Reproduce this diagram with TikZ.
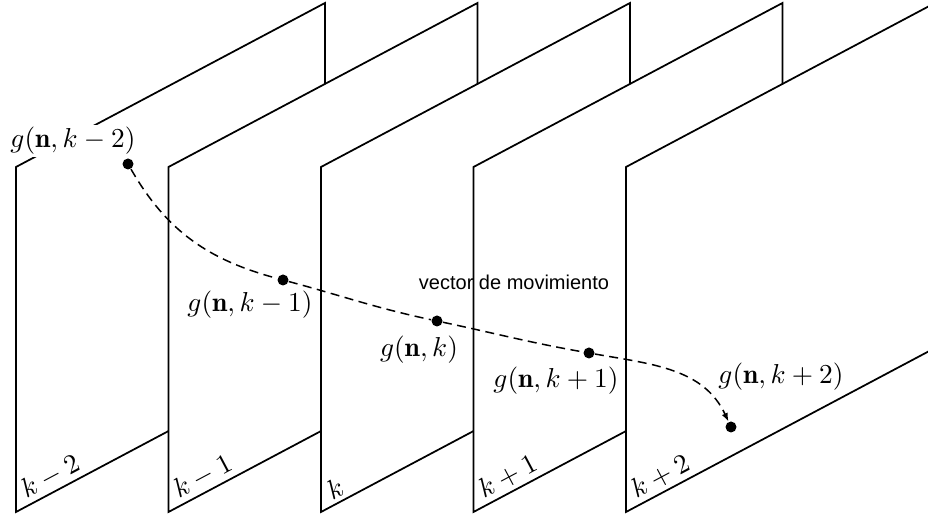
\documentclass[tikz,border=0pt]{standalone}
\usepackage{fontspec}
\newfontfamily\vecfont{Liberation Sans}
\usetikzlibrary{arrows.meta}

\begin{document}
\begin{tikzpicture}[x=0.4pt,y=0.4pt,>={Latex[length=3.4pt,width=2.6pt]},
  plane/.style={draw,fill=white,line width=0.7pt},
  dot/.style={circle,fill=black,inner sep=0pt,minimum size=4.4pt},
  lbl/.style={font=\fontsize{11}{13}\selectfont,inner sep=1pt},
  frame/.style={font=\fontsize{11}{13}\selectfont,rotate=28,anchor=south west,inner sep=0.5pt}]
\clip (0,0) rectangle (928,517);
\foreach \i/\fr in {0/k-2,1/k-1,2/k,3/k+1,4/k+2}{
  \draw[plane] ({16+152.5*\i},5) -- ++(0,345) -- ++(309,164) -- ++(0,-345) -- cycle;
  \node[frame] (f\i) at ({27+152.5*\i},14) {$\fr$};
}
\node[dot] (p0) at (128,353) {};
\node[dot] (p1) at (283,237) {};
\node[dot] (p2) at (437,196) {};
\node[dot] (p3) at (589,164) {};
\node[dot] (p4) at (731,90) {};
\draw[->,dash pattern=on 3.6pt off 2.2pt,line width=0.6pt] (p0) to[out=-60,in=165] (p1) to[out=-15,in=168] (p2) to[out=-12,in=170] (p3) to[out=-10,in=115] (p4);
\node[lbl,fill=white] (g0) at (73,376) {$g(\mathbf{n},k-2)$};
\node[lbl] (g1) at (250,212) {$g(\mathbf{n},k-1)$};
\node[lbl] (g2) at (419,167) {$g(\mathbf{n},k)$};
\node[lbl] (g3) at (556,136) {$g(\mathbf{n},k+1)$};
\node[lbl] (g4) at (781,140) {$g(\mathbf{n},k+2)$};
\node[font=\vecfont\fontsize{8}{10}\selectfont] (vec) at (514,235) {vector de movimiento};
\end{tikzpicture}
\end{document}
